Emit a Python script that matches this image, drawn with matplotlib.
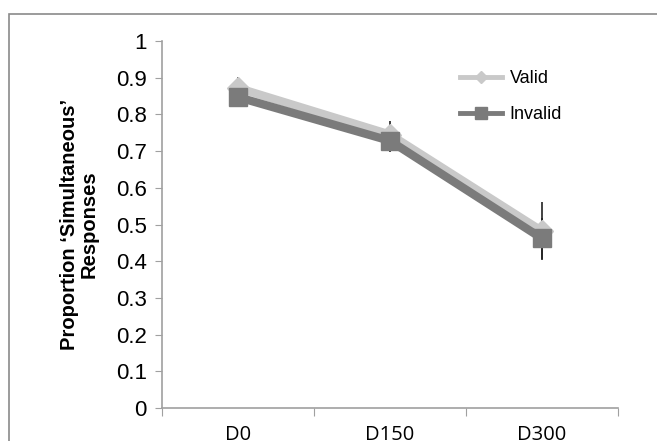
import matplotlib
matplotlib.use("Agg")
import matplotlib.pyplot as plt
from matplotlib.patches import Rectangle
from matplotlib.lines import Line2D
import numpy as np

categories = ["D0", "D150", "D300"]
valid = [0.872, 0.745, 0.482]
valid_err = [0.030, 0.037, 0.078]
invalid = [0.847, 0.728, 0.462]
invalid_err = [0.028, 0.031, 0.057]
yticks = [0, 0.1, 0.2, 0.3, 0.4, 0.5, 0.6, 0.7, 0.8, 0.9, 1]
yticklabels = ["0", "0.1", "0.2", "0.3", "0.4", "0.5", "0.6", "0.7", "0.8", "0.9", "1"]
series_names = ["Valid", "Invalid"]

W, H = 657, 441
fig = plt.figure(figsize=(W / 100, H / 100), dpi=100)
fig.patch.set_facecolor("white")

# outer frame
fig.patches.append(Rectangle((9 / W, -0.1), 1.2, 1 - 14 / H + 0.1, transform=fig.transFigure,
                             fill=False, edgecolor="#8a8a8a", linewidth=1.2))

ax = fig.add_axes([162 / W, 1 - 408 / H, (618 - 162) / W, (408 - 41) / H])
x = np.arange(len(categories))

light = "#c9c9c9"
dark = "#7b7b7b"

ax.errorbar(x, valid, yerr=valid_err, fmt="none", ecolor="#222222", elinewidth=1.2, capsize=0, zorder=1)
ax.errorbar(x, invalid, yerr=invalid_err, fmt="none", ecolor="#222222", elinewidth=1.2, capsize=0, zorder=1)
ax.plot(x, valid, color=light, linewidth=6, marker="D", markersize=11, markeredgecolor=light,
        zorder=3, solid_joinstyle="round")
ax.plot(x, invalid, color=dark, linewidth=6, marker="s", markersize=13.5, markeredgecolor=dark,
        zorder=4, solid_joinstyle="round")

ax.set_xlim(-0.5, 2.5)
ax.set_ylim(0, 1)
ax.set_yticks(yticks)
ax.set_yticklabels(yticklabels, fontsize=16, family="Liberation Sans")
ax.set_xticks([-0.5, 0.5, 1.5, 2.5])
ax.set_xticklabels([])
ax.set_xticks(x, minor=True)
ax.set_xticklabels(categories, minor=True, fontsize=14.5, family="Open Sans")
ax.tick_params(axis="x", which="major", length=6, color="#a0a0a0", direction="out")
ax.tick_params(axis="x", which="minor", length=0, pad=12)
ax.tick_params(axis="y", length=5, color="#a0a0a0", direction="out", pad=6)

for s in ["top", "right"]:
    ax.spines[s].set_visible(False)
for s in ["left", "bottom"]:
    ax.spines[s].set_color("#a0a0a0")
    ax.spines[s].set_linewidth(1.2)

ax.set_ylabel("Proportion \u2018Simultaneous\u2019\nResponses", fontsize=14.5, fontweight="bold",
              family="Liberation Sans", labelpad=12, linespacing=1.1)

handles = [Line2D([], [], color=light, linewidth=3.5, marker="D", markersize=6.5),
           Line2D([], [], color=dark, linewidth=3.5, marker="s", markersize=8)]
ax.legend(handles, series_names, loc="upper left", bbox_to_anchor=(0.618, 0.964), frameon=False,
          prop={"family": "Liberation Sans", "size": 13}, handlelength=2.3, labelspacing=1.05,
          handletextpad=0.45)

fig.savefig("out.png", dpi=100, facecolor="white")
